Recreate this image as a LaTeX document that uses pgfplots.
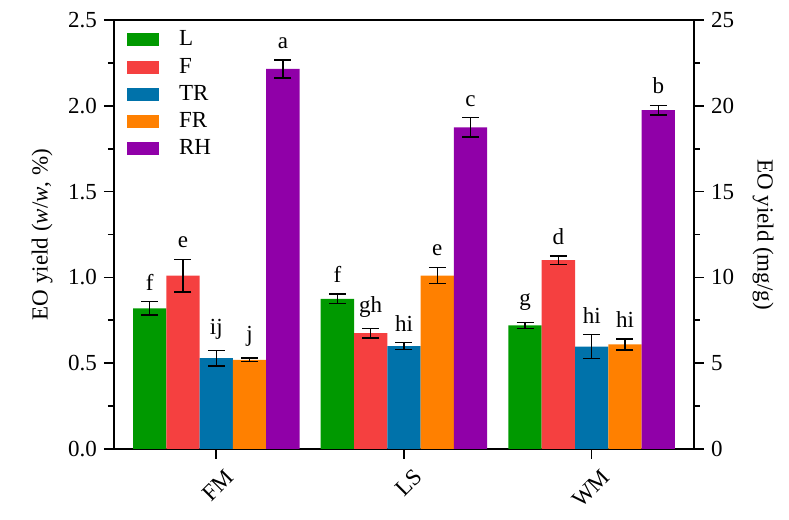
\documentclass[border=0pt]{standalone}
\usepackage{fontspec}
\setmainfont{Liberation Serif}
\usepackage{pgfplots}
\usepackage{pgfplotstable}
\pgfplotsset{compat=1.18}

\definecolor{cL}{RGB}{0,153,0}
\definecolor{cF}{RGB}{245,64,64}
\definecolor{cTR}{RGB}{0,114,170}
\definecolor{cFR}{RGB}{255,128,0}
\definecolor{cRH}{RGB}{144,0,168}

\pgfplotstableread{
x y err lab
0 0.820 0.040 f
1 0.875 0.028 f
2 0.720 0.018 g
}\tL
\pgfplotstableread{
x y err lab
0 1.010 0.094 e
1 0.675 0.027 gh
2 1.100 0.025 d
}\tF
\pgfplotstableread{
x y err lab
0 0.530 0.045 ij
1 0.600 0.020 hi
2 0.596 0.070 hi
}\tTR
\pgfplotstableread{
x y err lab
0 0.520 0.010 j
1 1.010 0.047 e
2 0.610 0.032 hi
}\tFR
\pgfplotstableread{
x y err lab
0 2.215 0.052 a
1 1.875 0.056 c
2 1.975 0.028 b
}\tRH

\begin{document}
\begin{tikzpicture}[font=\fontsize{11.5}{13.8}\selectfont]
\useasboundingbox (-57pt,-35.5pt) rectangle (337.5pt,224.5pt);
\pgfplotsset{
  errs/.style={error bars/.cd, y dir=both, y explicit,
    error bar style={line width=0.75pt, black},
    error mark options={rotate=90, mark size=4.25pt, line width=0.75pt, black}},
  labs/.style={bar shift=#1, draw=none, fill=none, forget plot,
    nodes near coords, point meta=explicit symbolic,
    nodes near coords style={black, anchor=south, inner sep=2pt, yshift=3.5pt}},
}
\begin{axis}[
  width=290pt, height=214.5pt, scale only axis,
  ybar, bar width=16.65pt,
  xmin=-0.545, xmax=2.545, ymin=0, ymax=2.5,
  xtick={0,1,2}, xticklabels={FM,LS,WM},
  xtick pos=bottom, ytick pos=left,
  ytick={0,0.5,...,2.5}, minor y tick num=1,
  yticklabel style={/pgf/number format/.cd, fixed, fixed zerofill, precision=1},
  /pgf/number format/assume math mode=true,
  tick align=outside,
  major tick length=5pt, minor tick length=3pt,
  tick style={line width=0.8pt, black},
  axis line style={line width=0.8pt},
  xticklabel style={rotate=45, anchor=north east, inner sep=1pt, yshift=-5pt, xshift=1pt},
  ylabel={EO yield (\textit{w}/\textit{w}, \%)},
  ylabel style={at={(axis description cs:-0.124,0.5)}, anchor=center},
  legend style={draw=none, fill=none, at={(axis description cs:0.022,0.985)}, anchor=north west,
    row sep=0.6pt, inner sep=0pt,
    nodes={inner sep=2pt}},
  legend cell align=left,
  legend image code/.code={\fill[#1] (0pt,-3.25pt) rectangle (16pt,3.25pt);},
  /tikz/every odd column/.append style={column sep=8pt},
]
\addplot[bar shift=-33.3pt, draw=none, fill=cL, errs] table[x=x, y=y, y error=err] \tL;
\addlegendentry{L}
\addplot[bar shift=-16.65pt, draw=none, fill=cF, errs] table[x=x, y=y, y error=err] \tF;
\addlegendentry{F}
\addplot[bar shift=0pt, draw=none, fill=cTR, errs] table[x=x, y=y, y error=err] \tTR;
\addlegendentry{TR}
\addplot[bar shift=16.65pt, draw=none, fill=cFR, errs] table[x=x, y=y, y error=err] \tFR;
\addlegendentry{FR}
\addplot[bar shift=33.3pt, draw=none, fill=cRH, errs] table[x=x, y=y, y error=err] \tRH;
\addlegendentry{RH}

\addplot[labs=-33.3pt] table[x=x, y expr=\thisrow{y}+\thisrow{err}, meta=lab] \tL;
\addplot[labs=-16.65pt] table[x=x, y expr=\thisrow{y}+\thisrow{err}, meta=lab] \tF;
\addplot[labs=0pt] table[x=x, y expr=\thisrow{y}+\thisrow{err}, meta=lab] \tTR;
\addplot[labs=16.65pt] table[x=x, y expr=\thisrow{y}+\thisrow{err}, meta=lab] \tFR;
\addplot[labs=33.3pt] table[x=x, y expr=\thisrow{y}+\thisrow{err}, meta=lab] \tRH;
\end{axis}

\begin{axis}[
  width=290pt, height=214.5pt, scale only axis,
  xmin=-0.545, xmax=2.545, ymin=0, ymax=25,
  axis x line=none, axis y line*=right, xtick=\empty,
  ytick={0,5,...,25}, minor y tick num=1,
  /pgf/number format/assume math mode=true,
  tick align=outside,
  major tick length=5pt, minor tick length=3pt,
  tick style={line width=0.8pt, black},
  axis line style={line width=0.8pt},
  ylabel={EO yield (mg/g)},
  ylabel style={at={(axis description cs:1.119,0.5)}, anchor=center, rotate=180},
]
\addplot[draw=none, forget plot] coordinates {(0,0)};
\end{axis}
\end{tikzpicture}
\end{document}
